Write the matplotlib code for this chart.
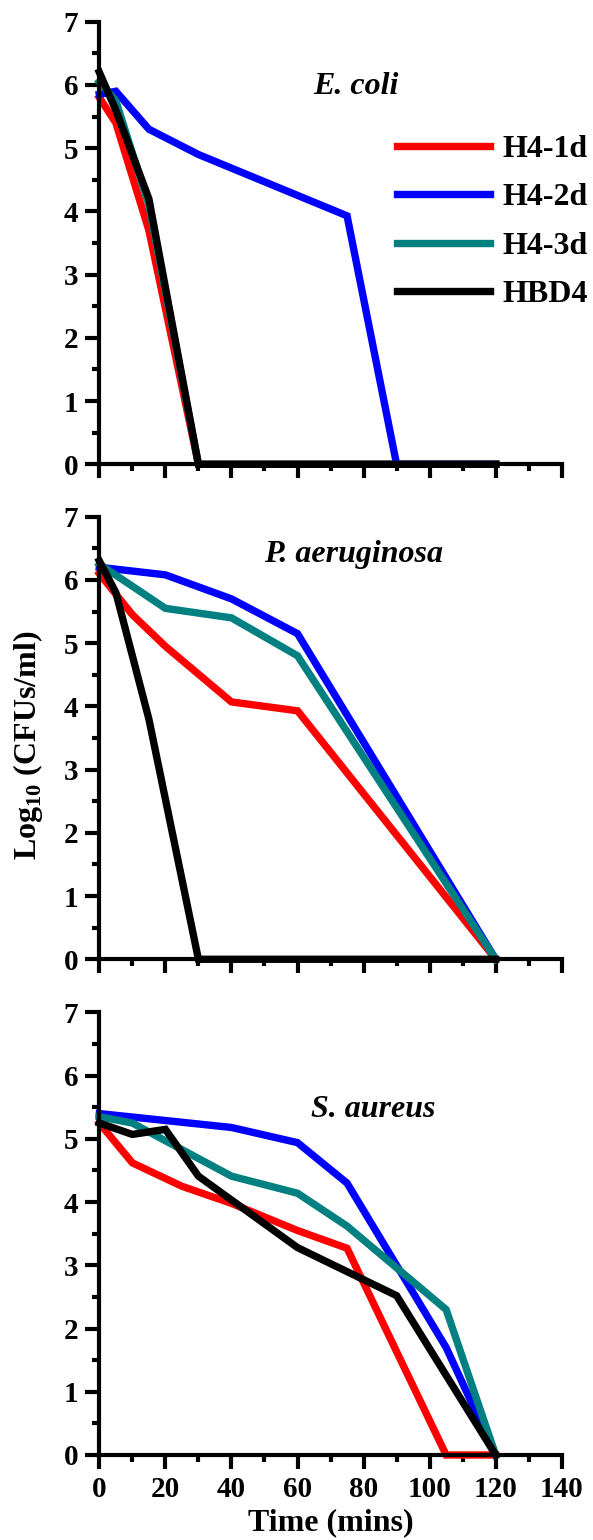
import matplotlib
matplotlib.use('Agg')
import matplotlib.pyplot as plt
from matplotlib.ticker import MultipleLocator

plt.rcParams['font.family'] = 'Liberation Serif'
plt.rcParams['font.weight'] = 'bold'
plt.rcParams['axes.labelweight'] = 'bold'
plt.rcParams['mathtext.fontset'] = 'custom'
plt.rcParams['mathtext.rm'] = 'Liberation Serif:bold'
plt.rcParams['mathtext.bf'] = 'Liberation Serif:bold'

labels = ['H4-1d', 'H4-2d', 'H4-3d', 'HBD4']
colors = ['#ff0000', '#0000ff', '#008080', '#000000']

# E. coli
ecoli_t = [[0, 5, 15, 30, 120],
           [0, 5, 15, 30, 75, 90, 120],
           [0, 5, 15, 30, 120],
           [0, 5, 15, 30, 120]]
ecoli_y = [[5.8, 5.4, 3.7, 0, 0],
           [5.85, 5.9, 5.3, 4.9, 3.93, 0, 0],
           [6.05, 5.75, 4.1, 0, 0],
           [6.2, 5.6, 4.2, 0, 0]]

# P. aeruginosa
pa_t = [[0, 10, 20, 40, 60, 120],
        [0, 20, 40, 60, 120],
        [0, 20, 40, 60, 120],
        [0, 5, 15, 30, 120]]
pa_y = [[6.1, 5.45, 4.95, 4.07, 3.93, 0],
        [6.2, 6.08, 5.7, 5.15, 0],
        [6.25, 5.55, 5.4, 4.8, 0],
        [6.3, 5.8, 3.8, 0, 0]]

# S. aureus
sa_t = [[0, 10, 25, 40, 60, 75, 105, 120],
        [0, 40, 60, 75, 105, 120],
        [0, 10, 40, 60, 75, 90, 105, 120],
        [0, 10, 20, 30, 60, 90, 120]]
sa_y = [[5.25, 4.62, 4.25, 3.98, 3.55, 3.27, 0, 0],
        [5.4, 5.18, 4.94, 4.3, 1.7, 0],
        [5.35, 5.25, 4.41, 4.14, 3.62, 2.96, 2.3, 0],
        [5.25, 5.07, 5.15, 4.41, 3.28, 2.52, 0]]

panels = [('E. coli', ecoli_t, ecoli_y, (77.7, 5.97)),
          ('P. aeruginosa', pa_t, pa_y, (77, 6.4)),
          ('S. aureus', sa_t, sa_y, (82.9, 5.47))]

fig = plt.figure(figsize=(5.93, 15.40), dpi=100)
bottoms = [0.6985, 0.3771, 0.0552]
axes = []
for i, (name, ts, ys, pos) in enumerate(panels):
    ax = fig.add_axes([0.1675, bottoms[i], 0.7798, 0.2874])
    for t, y, c, lab in zip(ts, ys, colors, labels):
        ax.plot(t, y, color=c, lw=5.3, label=lab, clip_on=False, solid_joinstyle='miter')
    ax.set_xlim(0, 140)
    ax.set_ylim(0, 7)
    ax.xaxis.set_major_locator(MultipleLocator(20))
    ax.xaxis.set_minor_locator(MultipleLocator(10))
    ax.yaxis.set_major_locator(MultipleLocator(1))
    ax.yaxis.set_minor_locator(MultipleLocator(0.5))
    for s in ['top', 'right']:
        ax.spines[s].set_visible(False)
    for s in ['left', 'bottom']:
        ax.spines[s].set_linewidth(3)
    ax.tick_params(which='major', direction='out', length=10, width=3, labelsize=21, pad=5)
    ax.tick_params(which='minor', direction='out', length=5, width=3)
    if i < 2:
        ax.tick_params(axis='x', which='both', labelbottom=False)
    ax.text(pos[0], pos[1], name, ha='center', va='center', fontsize=23,
            fontstyle='italic', fontweight='bold')
    axes.append(ax)

axes[2].set_xlabel('Time (mins)', fontsize=23, labelpad=4)
fig.text(0.047, 0.516, r'Log$_{10}$ (CFUs/ml)', rotation=90, ha='center', va='center', fontsize=23)

axes[0].legend(loc='center left', bbox_to_anchor=(397 / 593, 1 - 222 / 1540),
               bbox_transform=fig.transFigure, frameon=False, fontsize=23,
               handlelength=2.9, handletextpad=0.4, labelspacing=0.6,
               borderpad=0, borderaxespad=0)

fig.savefig('out.png', dpi=100)
